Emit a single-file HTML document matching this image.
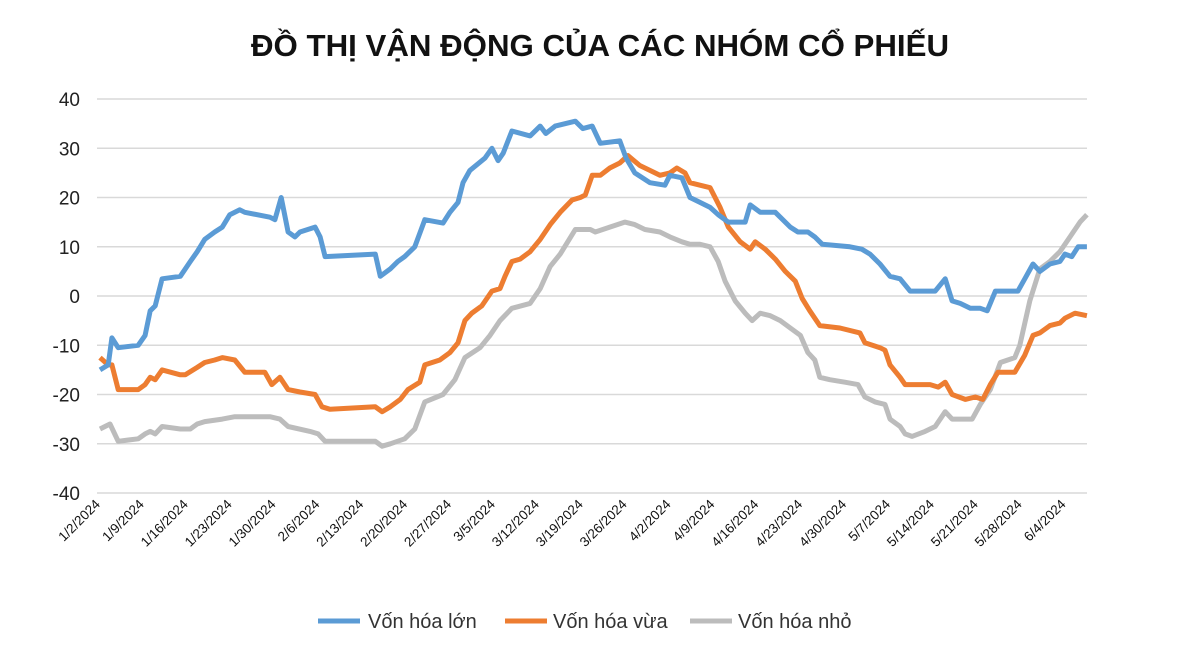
<!DOCTYPE html>
<html><head><meta charset="utf-8"><style>
body{margin:0;background:#fff;}
svg{display:block;font-family:"Liberation Sans",sans-serif;}
</style></head><body>
<svg id="chart" width="1200" height="658" viewBox="0 0 1200 658" xmlns="http://www.w3.org/2000/svg">
<text x="600" y="56" text-anchor="middle" font-size="31" font-weight="bold" textLength="698" lengthAdjust="spacingAndGlyphs" fill="#111">ĐỒ THỊ VẬN ĐỘNG CỦA CÁC NHÓM CỔ PHIẾU</text>
<g id="grid"></g><g id="xlabels"></g><g id="series"></g>
<g font-size="20" fill="#333">
<line x1="318" y1="621" x2="360" y2="621" stroke="#5b9bd5" stroke-width="5"/>
<text x="368" y="628">Vốn hóa lớn</text>
<line x1="505" y1="621" x2="547" y2="621" stroke="#ed7d31" stroke-width="5"/>
<text x="553" y="628">Vốn hóa vừa</text>
<line x1="690" y1="621" x2="732" y2="621" stroke="#bcbcbc" stroke-width="5"/>
<text x="738" y="628">Vốn hóa nhỏ</text>
</g>
</svg>
<script>
const yTicks=[40,30,20,10,0,-10,-20,-30,-40];
const xTickLabels=["1/2/2024","1/9/2024","1/16/2024","1/23/2024","1/30/2024","2/6/2024","2/13/2024","2/20/2024","2/27/2024","3/5/2024","3/12/2024","3/19/2024","3/26/2024","4/2/2024","4/9/2024","4/16/2024","4/23/2024","4/30/2024","5/7/2024","5/14/2024","5/21/2024","5/28/2024","6/4/2024"];
const largeDays=[0,1.3,1.9,2.9,6.1,7.2,8,8.8,9.9,12.8,14.4,15.5,16.7,18.3,19.5,20.7,22.3,23.1,27.1,27.9,28.9,30,31.1,31.9,34.3,35.1,35.9,43.9,44.7,46.3,47.5,48.6,50.2,51.8,54.7,55.8,57.1,57.9,59,61.4,62.5,63.5,64.3,65.7,68.6,70.2,71.1,72.6,75.8,77,78.5,79.8,82.9,83.9,85.3,87.7,90.1,90.9,92.8,94.1,95.7,97.3,98.6,100.2,102.9,103.7,105.3,107.7,110.1,111.3,112.9,114,115.2,119.6,121.5,122.8,124.4,126,127.6,129.2,133.2,134.8,135.9,137.2,138.8,140.4,141.5,142.8,145.1,146.4,147.5,148.8,149.9,151.5,153.1,153.9,155,156,157.4];
const largeVals=[-15,-14,-8.5,-10.5,-10,-8,-3,-2,3.5,4,7,9,11.5,13,14,16.5,17.5,17,16,15.5,20,13,12,13,14,12,8,8.5,4,5.5,7,8,10,15.5,14.8,17,19,23,25.5,28,30,27.5,29,33.5,32.5,34.5,33,34.5,35.5,34,34.5,31,31.5,28,25,23,22.5,24.5,24,20,19,18,16.5,15,15,18.5,17,17,14,13,13,12,10.5,10,9.5,8.5,6.5,4,3.5,1,1,3.5,-1,-1.5,-2.5,-2.5,-3,1,1,1,3.5,6.5,5,6.5,7,8.5,8,10,10];
const midDays=[0,1.3,1.9,2.9,6.1,7.2,8,8.8,9.9,12.8,13.6,15.5,16.7,18.3,19.5,21.5,23.1,26.3,27.4,28.7,30,31.9,34.3,35.4,36.7,43.9,45,46.3,47.9,49.1,51,51.8,54.2,55.8,57.1,58.2,59.3,60.9,62.5,63.8,64.6,65.7,67,68.6,70.2,71.8,73.4,75.3,76.6,77.4,78.5,79.8,81.3,82.9,84.2,86.1,87.7,89.3,90.9,92,93.3,94.1,95.7,97.3,98.9,100.2,102.1,103.7,104.5,106.1,107.7,109.3,110.9,112,113.2,114.8,118,121.2,122,124.4,125.2,126,127.6,128.4,132.4,133.7,134.8,135.9,138,139.6,140.8,142,143.2,145.9,147.5,148.8,149.9,151.5,153.1,153.9,155.5,157.4];
const midVals=[-12.5,-14,-14,-19,-19,-18,-16.5,-17,-15,-16,-16,-14.5,-13.5,-13,-12.5,-13,-15.5,-15.5,-18,-16.5,-19,-19.5,-20,-22.5,-23,-22.5,-23.5,-22.5,-21,-19,-17.5,-14,-13,-11.5,-9.5,-5,-3.5,-2,1,1.5,4,7,7.5,9,11.5,14.5,17,19.5,20,20.5,24.5,24.5,26,27,28.5,26.5,25.5,24.5,25,26,25,23,22.5,22,18,14,11,9.5,11,9.5,7.5,5,3,-0.5,-3,-6,-6.5,-7.5,-9.5,-10.5,-11,-14,-16.5,-18,-18,-18.5,-17.5,-20,-21,-20.5,-21,-18,-15.5,-15.5,-12,-8,-7.5,-6,-5.5,-4.5,-3.5,-4];
const smallDays=[0,1.6,2.9,6.1,7.2,8,8.8,9.9,12.8,14.4,15.5,16.7,19.5,21.5,23.1,27.1,28.7,30,33.5,34.8,35.9,43.9,45,46.3,48.6,50.2,51.8,54.7,56.6,58.2,60.6,62.2,63.8,65.7,68.6,70.2,71.8,73.4,75.8,78.2,79,81.3,83.7,85.3,86.9,89.3,90.9,92.8,94.1,95.7,97.3,98.6,99.7,101.3,102.9,104,105.3,106.9,108.5,110.1,111.7,112.9,114,114.8,116.4,118.8,120.9,122,123.6,125.2,126,127.6,128.4,129.5,131.6,133.2,134.8,135.9,139.1,140.4,142,143.6,145.9,146.7,148.3,149.9,151.5,153.1,154.7,156.3,157.4];
const smallVals=[-27,-26,-29.5,-29,-28,-27.5,-28,-26.5,-27,-27,-26,-25.5,-25,-24.5,-24.5,-24.5,-25,-26.5,-27.5,-28,-29.5,-29.5,-30.5,-30,-29,-27,-21.5,-20,-17,-12.5,-10.5,-8,-5,-2.5,-1.5,1.5,6,8.5,13.5,13.5,13,14,15,14.5,13.5,13,12,11,10.5,10.5,10,7,3,-1,-3.5,-5,-3.5,-4,-5,-6.5,-8,-11.5,-13,-16.5,-17,-17.5,-18,-20.5,-21.5,-22,-25,-26.5,-28,-28.5,-27.5,-26.5,-23.5,-25,-25,-22,-19,-13.5,-12.5,-10,-1,5.5,7,9,12,15,16.5];

const NS="http://www.w3.org/2000/svg";
const X0=100,PX_PER_DAY=6.27,Y0=296,PX_PER_UNIT=4.925,XR=1087;
const xs=d=>X0+d*PX_PER_DAY;
const ys=v=>Y0-v*PX_PER_UNIT;
const grid=document.getElementById('grid');
yTicks.forEach(t=>{
  const l=document.createElementNS(NS,'line');
  
  
  l.setAttribute('x1',97);l.setAttribute('x2',XR);
  l.setAttribute('y1',ys(t));l.setAttribute('y2',ys(t));
  l.setAttribute('stroke','#d9d9d9');l.setAttribute('stroke-width','1.5');
  grid.appendChild(l);
  const tx=document.createElementNS(NS,'text');
  
  
  tx.setAttribute('x',80);tx.setAttribute('y',ys(t)+7);
  tx.setAttribute('text-anchor','end');tx.setAttribute('font-size','19');tx.setAttribute('fill','#222');
  tx.textContent=t;grid.appendChild(tx);
});
const xl=document.getElementById('xlabels');
xTickLabels.forEach((s,i)=>{
  const x=xs(i*7)+1,y=505;
  const tx=document.createElementNS(NS,'text');
  
  
  tx.setAttribute('x',x);tx.setAttribute('y',y);
  tx.setAttribute('text-anchor','end');tx.setAttribute('font-size','13.5');tx.setAttribute('fill','#111');
  tx.setAttribute('transform','rotate(-45 '+x+' '+y+')');
  tx.textContent=s;xl.appendChild(tx);
});
const sg=document.getElementById('series');
[[smallDays,smallVals,'#bcbcbc','series-small-cap'],[midDays,midVals,'#ed7d31','series-mid-cap'],[largeDays,largeVals,'#5b9bd5','series-large-cap']].forEach(([d,v,c,n])=>{
  const p=document.createElementNS(NS,'polyline');
  
  
  p.setAttribute('points',d.map((dd,i)=>xs(dd).toFixed(1)+','+ys(v[i]).toFixed(1)).join(' '));
  p.setAttribute('fill','none');p.setAttribute('stroke',c);p.setAttribute('stroke-width','5');
  p.setAttribute('stroke-linejoin','round');
  sg.appendChild(p);
});
</script>
</body></html>
